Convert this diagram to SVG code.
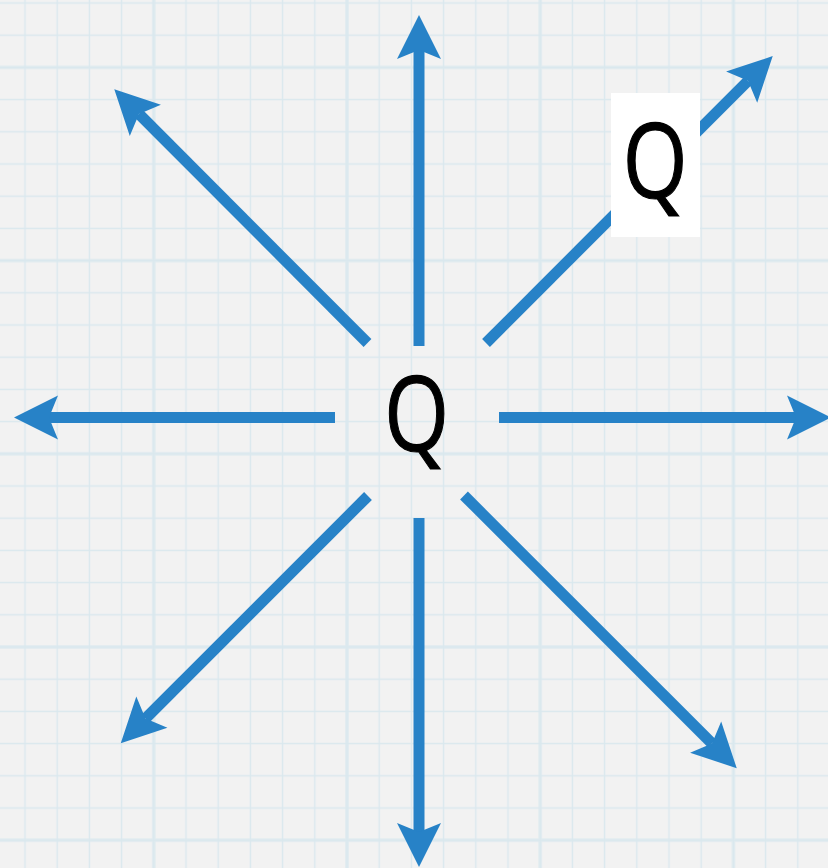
<svg xmlns="http://www.w3.org/2000/svg" width="828" height="868" viewBox="0 0 828 868">
<defs>
<pattern id="minor" patternUnits="userSpaceOnUse" x="8.9" y="-13.1" width="32.2" height="32.2">
<line x1="16.1" y1="0" x2="16.1" y2="32.2" stroke="#dae8ee" stroke-width="1.4"/>
<line x1="0" y1="16.1" x2="32.2" y2="16.1" stroke="#dae8ee" stroke-width="1.4"/>
</pattern>
<pattern id="major" patternUnits="userSpaceOnUse" x="57.2" y="-29.2" width="193.2" height="193.2">
<line x1="96.6" y1="0" x2="96.6" y2="193.2" stroke="#e0ebef" stroke-width="3.5"/>
<line x1="0" y1="96.6" x2="193.2" y2="96.6" stroke="#e0ebef" stroke-width="3.5"/>
</pattern>
<marker id="head" markerUnits="userSpaceOnUse" markerWidth="50" markerHeight="50" viewBox="-2 -24 50 48" refX="9" refY="0" orient="auto">
<path d="M0,-22 L44,0 L0,22 L9,0 z" fill="#2782c7"/>
</marker>
<style>
.arr{stroke:#2782c7;stroke-width:11;fill:none;marker-end:url(#head)}
.q{font-family:"Open Sans","Noto Sans","DejaVu Sans",sans-serif;font-size:104px;fill:#000;stroke:#000;stroke-width:1.2;text-anchor:middle}
</style>
</defs>
<rect width="828" height="868" fill="#f2f2f2"/>
<rect width="828" height="868" fill="url(#major)"/>
<rect width="828" height="868" fill="url(#minor)"/>
<g id="connectors">
<line class="arr" x1="419" y1="346" x2="419" y2="50"/>
<line class="arr" x1="419" y1="518" x2="419" y2="832"/>
<line class="arr" x1="335" y1="417.5" x2="49" y2="417.5"/>
<line class="arr" x1="499" y1="417.5" x2="796" y2="417.5"/>
<line class="arr" x1="367.5" y1="343" x2="139" y2="114"/>
<line class="arr" x1="486" y1="343" x2="748" y2="80.8"/>
<line class="arr" x1="368" y1="496" x2="145.5" y2="718.5"/>
<line class="arr" x1="464" y1="495.5" x2="712" y2="743.5"/>
</g>
<g id="center-node">
<text class="q" transform="translate(416.5,451) scale(0.8,1)">Q</text>
</g>
<g id="label-node">
<rect x="611" y="93" width="89" height="144" fill="#ffffff"/>
<text class="q" transform="translate(655,198) scale(0.8,1)">Q</text>
</g>
</svg>
